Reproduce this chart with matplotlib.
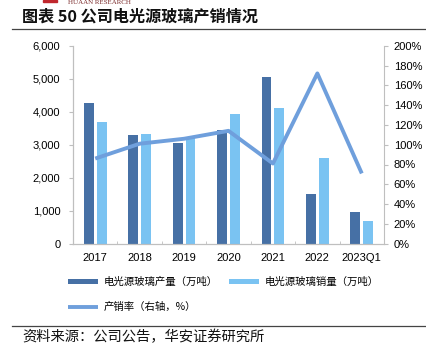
import matplotlib as mpl
import matplotlib.pyplot as plt
from matplotlib.lines import Line2D
from matplotlib.patches import Rectangle
import numpy as np

# data
years = ["2017", "2018", "2019", "2020", "2021", "2022", "2023Q1"]
output_t = [4270, 3280, 3060, 3450, 5040, 1510, 960]      # 产量（万吨）
sales_t = [3690, 3330, 3220, 3940, 4120, 2610, 690]       # 销量（万吨）
ratio_pct = [86, 101, 106, 114, 81, 172, 71]              # 产销率（%）

left_ticks = [0, 1000, 2000, 3000, 4000, 5000, 6000]
right_ticks = [0, 20, 40, 60, 80, 100, 120, 140, 160, 180, 200]

DARK = "#4670A5"
LIGHT = "#7AC3F2"
LINE = "#6F9FDC"
GRID = "#BFBFBF"
CJK = ["Noto Sans CJK SC", "DejaVu Sans"]

mpl.rcParams.update({
    "font.family": ["Liberation Sans", "DejaVu Sans"],
    "font.size": 8,
    "axes.linewidth": 0.8,
    "axes.edgecolor": GRID,
})

W, H = 427, 344
fig = plt.figure(figsize=(W / 100, H / 100), dpi=100)

# header bits
fig.patches.append(Rectangle((43 / W, 1 - 2 / H), 14 / W, 2 / H,
                             transform=fig.transFigure, color="#C0272D"))
fig.text(68 / W, 1 - 2.5 / H, "HUAAN RESEARCH", fontsize=5, color="#7A2A2A",
         family=["Liberation Serif", "DejaVu Serif"], va="center", ha="left")
fig.text(22 / W, 1 - 17 / H, "图表 50 公司电光源玻璃产销情况", family=CJK,
         fontsize=11.6, fontweight="bold", va="center", ha="left", color="#111111")
fig.lines.append(Line2D([12 / W, 1], [1 - 29 / H, 1 - 29 / H], transform=fig.transFigure,
                        color="#444444", lw=0.9))
fig.lines.append(Line2D([12 / W, 1], [1 - 326 / H, 1 - 326 / H], transform=fig.transFigure,
                        color="#444444", lw=0.9))
fig.text(22 / W, 1 - 337 / H, "资料来源：公司公告，华安证券研究所", family=CJK,
         fontsize=10.3, va="center", ha="left", color="#111111")

ax = fig.add_axes([73 / W, 1 - 243.7 / H, 311 / W, 198 / H])
ax2 = ax.twinx()

x = np.arange(len(years))
bw = 0.22
b1 = ax.bar(x - 0.145, output_t, bw, color=DARK, label="电光源玻璃产量（万吨）", zorder=2)
b2 = ax.bar(x + 0.145, sales_t, bw, color=LIGHT, label="电光源玻璃销量（万吨）", zorder=2)
ln, = ax2.plot(x, ratio_pct, color=LINE, lw=2.8, solid_capstyle="butt",
               label="产销率（右轴，%）")

ax.set_xlim(-0.5, len(years) - 0.5)
ax.set_ylim(0, 6000)
ax.set_yticks(left_ticks)
ax.set_yticklabels([f"{v:,}" for v in left_ticks])
ax2.set_ylim(0, 200)
ax2.set_yticks(right_ticks)
ax2.set_yticklabels([f"{v}%" for v in right_ticks])

ax.set_xticks(x)
ax.set_xticklabels(years)
ax.set_xticks(np.arange(len(years) + 1) - 0.5, minor=True)
ax.tick_params(axis="x", which="major", length=0, pad=7)
ax.tick_params(axis="x", which="minor", direction="in", length=2.5, color=GRID)
ax.tick_params(axis="y", length=3, color=GRID, pad=6)
ax2.tick_params(axis="y", length=3, color=GRID, pad=4)

for a in (ax, ax2):
    a.spines["top"].set_visible(False)
for s in ("left", "right", "bottom"):
    ax2.spines[s].set_color(GRID)
ax.spines["right"].set_visible(False)

fig.legend([b1, ln, b2], [b1.get_label(), ln.get_label(), b2.get_label()],
           ncol=2, loc="upper left", bbox_to_anchor=(68 / W, 1 - 277 / H),
           frameon=False, prop={"family": CJK, "size": 7.5},
           handlelength=2.9, handleheight=0.45, handletextpad=0.5,
           columnspacing=1.1, labelspacing=1.4, borderpad=0, borderaxespad=0)

fig.savefig("out.png", dpi=100)
